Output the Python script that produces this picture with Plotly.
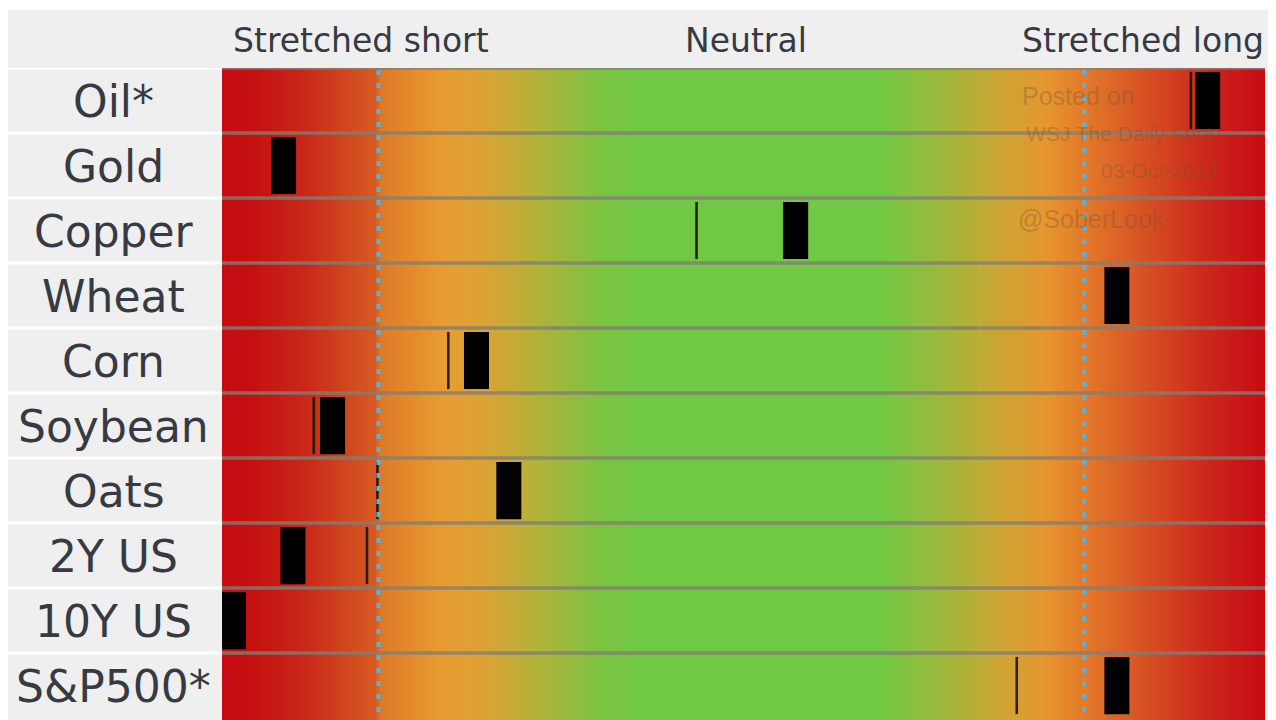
import numpy as np
import plotly.graph_objects as go

# ---------------- data ----------------
rows = ["Oil*", "Gold", "Copper", "Wheat", "Corn", "Soybean", "Oats", "2Y US", "10Y US", "S&P500*"]
current_pos = [94.5, 5.9, 55.0, 85.8, 24.4, 10.6, 27.5, 6.8, 1.1, 85.8]
previous_pos = [92.9, None, 45.5, None, 21.7, 8.8, 14.9, 13.9, None, 76.2]
zone_labels = ["Stretched short", "Neutral", "Stretched long"]
zone_label_pos = [13.3, 50.2, 88.3]
stretched_short = 15.0
stretched_long = 82.7
watermark = ["Posted on", "WSJ The Daily Shot", "03-Oct-2018", "@SoberLook"]

# ---------------- style ----------------
OFF = 8                      # page body margin
W, H = 1268, 712             # figure size (page 1276x720 minus offset)
PLOT_L, PLOT_R, PLOT_T = 222 - OFF, 1265 - OFF, 68 - OFF
grad_stops = [
    (0.0, "#c80a14"), (3.0, "#c51010"), (8.0, "#c9281a"), (13.0, "#d24e20"),
    (14.8, "#d65a22"), (15.3, "#de7a28"), (21.0, "#e89c30"), (25.0, "#dca234"),
    (30.0, "#b4b23a"), (36.0, "#7ec242"), (40.0, "#70c844"), (63.0, "#70c844"),
    (70.0, "#a4b63a"), (75.0, "#d0a434"), (79.0, "#e6962f"), (82.7, "#e37a2a"),
    (88.0, "#d85424"), (94.0, "#cc2a1c"), (100.0, "#c80a14"),
]
colorscale = [[p / 100.0, c] for p, c in grad_stops]
FONT = "DejaVu Sans"
TEXT_COL = "#363a42"
BAR_W = 2.4
LINE_W = 0.25
ROW_H = 0.88


def px_x(x):
    return (x - OFF) / W


def px_y(y):
    return 1 - (y - OFF) / H


n = len(rows)
idx = list(range(n))
ROWS_SHOWN = n - 0.5 + 0.03   # last row runs slightly past the bottom edge

fig = go.Figure()

# gradient background
N = 520
xe = np.linspace(0, 100, N + 1)
xm = (xe[:-1] + xe[1:]) / 2
fig.add_trace(go.Heatmap(
    x=xe, y=[-0.5, n - 0.5 + 0.1], z=[xm], zmin=0, zmax=100,
    colorscale=colorscale, showscale=False, hoverinfo="skip",
))

# previous position (thin lines)
prev_idx = [i for i in idx if previous_pos[i] is not None]
prev_val = [previous_pos[i] for i in prev_idx]
fig.add_trace(go.Bar(
    orientation="h", y=prev_idx, x=[LINE_W] * len(prev_idx),
    base=[v - LINE_W / 2 for v in prev_val], width=ROW_H,
    marker=dict(color="rgba(28,20,6,0.9)", line=dict(width=0)),
    hoverinfo="skip", showlegend=False,
))

# current position (black blocks)
fig.add_trace(go.Bar(
    orientation="h", y=idx, x=[BAR_W] * n,
    base=[v - BAR_W / 2 for v in current_pos], width=ROW_H,
    marker=dict(color="#000000", line=dict(width=0)),
    hoverinfo="skip", showlegend=False,
))

shapes = []
# thin white strip at top (reference border is slightly larger than body margin)
shapes.append(dict(type="rect", xref="paper", yref="paper", x0=0, x1=1, y0=px_y(10), y1=1,
                   fillcolor="white", line=dict(width=0), layer="below"))
# white row separators in label column / gutters
for k in range(n):
    shapes.append(dict(type="line", xref="paper", yref="y", x0=0, x1=1, y0=k - 0.5, y1=k - 0.5,
                       line=dict(color="white", width=3), layer="below"))
# grey grid lines over gradient
for k in range(n):
    shapes.append(dict(type="line", xref="x", yref="y", x0=0, x1=100, y0=k - 0.5, y1=k - 0.5,
                       line=dict(color="rgba(130,126,116,0.8)", width=3.5), layer="above"))
# dotted threshold lines
for xv in (stretched_short, stretched_long):
    shapes.append(dict(type="line", xref="x", yref="paper", x0=xv, x1=xv,
                       y0=px_y(712), y1=px_y(62),
                       line=dict(color="#5ab4da", width=4, dash="5px,8px"), layer="above"))

annotations = []
for i, lab in enumerate(rows):
    annotations.append(dict(xref="paper", yref="y", x=px_x(114), y=i + 0.02, text=lab,
                            showarrow=False, xanchor="center", yanchor="middle",
                            font=dict(family=FONT, size=44, color=TEXT_COL)))
for lab, xv in zip(zone_labels, zone_label_pos):
    annotations.append(dict(xref="x", yref="paper", x=xv, y=px_y(40), text=lab, showarrow=False,
                            xanchor="center", yanchor="middle",
                            font=dict(family=FONT, size=33, color=TEXT_COL)))
wm_col = "rgba(110,85,50,0.35)"
wm_specs = [(1020, 96, 25), (1024, 134, 21), (1099, 171, 21), (1016, 219, 25)]
for txt, (xp, yp, fs) in zip(watermark, wm_specs):
    annotations.append(dict(xref="paper", yref="paper", x=px_x(xp), y=px_y(yp), text=txt,
                            showarrow=False, xanchor="left", yanchor="middle",
                            font=dict(family="Liberation Sans", size=fs, color=wm_col)))

fig.update_layout(
    width=W, height=H, margin=dict(l=0, r=0, t=0, b=0),
    paper_bgcolor="#efefef", plot_bgcolor="#efefef",
    barmode="overlay", showlegend=False,
    xaxis=dict(domain=[PLOT_L / W, PLOT_R / W], range=[0, 100], showgrid=False,
               zeroline=False, showticklabels=False, ticks="", fixedrange=True),
    yaxis=dict(domain=[0, 1 - PLOT_T / H], range=[ROWS_SHOWN, -0.5], showgrid=False,
               zeroline=False, showticklabels=False, ticks="", fixedrange=True),
    shapes=shapes, annotations=annotations,
)

fig.write_html("out.html")
